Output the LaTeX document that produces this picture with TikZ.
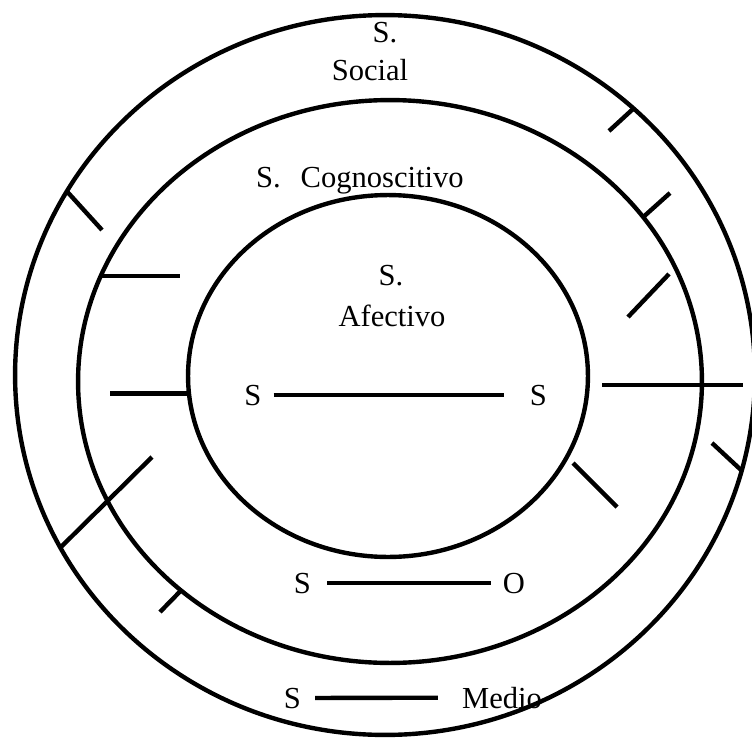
\documentclass[tikz,border=0pt]{standalone}
\usepackage{fontspec}
\setmainfont{Liberation Serif}
\usetikzlibrary{shapes.geometric}
\begin{document}
\begin{tikzpicture}[x=0.02cm, y=-0.02cm, line width=2.5pt,
  ring/.style={draw,ellipse,inner sep=0pt,outer sep=0pt},
  lbl/.style={anchor=base,inner sep=0pt,font=\fontsize{17.4}{20}\selectfont}]
  \useasboundingbox (0,0) rectangle (752,738);
  \node[ring,minimum width=14.8cm,minimum height=14.4cm] (outer) at (385,375) {};
  \node[ring,minimum width=12.48cm,minimum height=11.26cm] (middle) at (390,381.5) {};
  \node[ring,minimum width=8cm,minimum height=7.24cm] (inner) at (388,376) {};
  \node[lbl] (socS) at (385,42) {S.};
  \node[lbl] (soc) at (370,80) {Social};
  \node[lbl] (cog) at (360,187) {S.\hspace{0.65em}Cognoscitivo};
  \node[lbl] (afeS) at (391,285) {S.};
  \node[lbl] (afe) at (392,326) {Afectivo};
  \node[lbl] (sa) at (253,405) {S}; \node[lbl] (sb) at (538.5,405) {S};
  \node[lbl] (so) at (302.5,593) {S}; \node[lbl] (obj) at (514,593) {O};
  \node[lbl] (sm) at (292.5,708) {S}; \node[lbl] (medio) at (502,708) {Medio};
  \draw[shorten <=5.7pt,shorten >=13.6pt] (sa) -- (sb);
  \draw[shorten <=8pt,shorten >=5.7pt] (so) -- (obj);
  \draw[shorten <=6.8pt,shorten >=12.5pt] (sm) -- (medio);
  \coordinate (e1) at (102,230); \coordinate (e2) at (180,0); \coordinate (e3) at (110,0);
  \coordinate (e4) at (152,457); \coordinate (e5) at (160,612);
  \coordinate (e6) at (609,131); \coordinate (e7) at (670,193); \coordinate (e10) at (712,443);
  \coordinate (f8a) at (669,274); \coordinate (f8b) at (628,317);
  \coordinate (h1) at (602,385); \coordinate (h2) at (743,385);
  \coordinate (f11a) at (573,463); \coordinate (f11b) at (617,507);
  \draw (outer.150) -- (e1); \draw (middle.160) -- (middle.160 -| e2);
  \draw (inner.185) -- (inner.185 -| e3); \draw (outer.208) -- (e4);
  \draw (middle.225) -- (e5); \draw (outer.47) -- (e6); \draw (middle.33) -- (e7);
  \draw (f8a) -- (f8b); \draw (h1) -- (h2);
  \draw (outer.-15) -- (e10); \draw (f11a) -- (f11b);
\end{tikzpicture}
\end{document}
